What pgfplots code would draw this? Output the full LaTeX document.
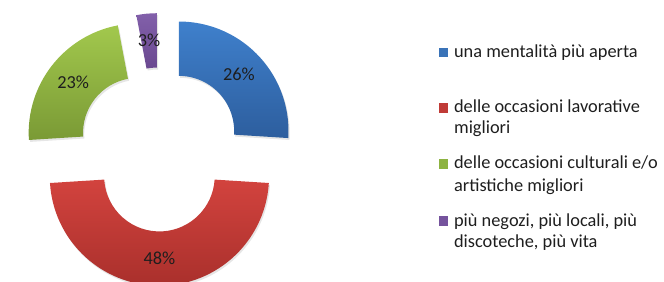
\documentclass[border=0pt]{standalone}
\usepackage{pgfplots}
\pgfplotsset{compat=1.18}
\usepackage{pgfplotstable}
\usepackage{fontspec}
\setmainfont{Carlito}
\usetikzlibrary{calc}
\definecolor{blueT}{HTML}{3F80CC}
\definecolor{blueB}{HTML}{2D5E9E}
\definecolor{redT}{HTML}{D2433E}
\definecolor{redB}{HTML}{A82F2B}
\definecolor{greenT}{HTML}{A2C84D}
\definecolor{greenB}{HTML}{7A9A35}
\definecolor{purpleT}{HTML}{8260AA}
\definecolor{purpleB}{HTML}{6A4890}
\definecolor{cblue}{HTML}{3A73B8}
\definecolor{cred}{HTML}{C03B37}
\definecolor{cgreen}{HTML}{8DB341}
\definecolor{cpurple}{HTML}{75539D}
\definecolor{shadow}{HTML}{E6E6E6}
\definecolor{txt}{HTML}{1E1E1E}

\pgfplotstableread{
share
26
48
23
3
}\shares

\newcommand\legfont{\fontsize{18.9bp}{22bp}\selectfont}

\newcommand\segpath[3]{%
   ($(axis cs:144,136)+(#3:27.5bp)+(#1:113bp)$) arc[start angle=#1, end angle=#2, radius=113bp]
   -- ($(axis cs:144,136)+(#3:27.5bp)+(#2:57bp)$) arc[start angle=#2, end angle=#1, radius=57bp] -- cycle}
\newcommand\seg[5]{%
  \fill[shadow, shift={(1.2bp,-2bp)}] \segpath{#1}{#2}{#3};
  \shade[top color=#4, bottom color=#5] \segpath{#1}{#2}{#3};}

\begin{document}
\pgfplotstablegetelem{0}{share}\of\shares \let\vA\pgfplotsretval
\pgfplotstablegetelem{1}{share}\of\shares \let\vB\pgfplotsretval
\pgfplotstablegetelem{2}{share}\of\shares \let\vC\pgfplotsretval
\pgfplotstablegetelem{3}{share}\of\shares \let\vD\pgfplotsretval
\pgfmathsetmacro\sA{90}
\pgfmathsetmacro\eA{\sA-3.6*\vA}
\pgfmathsetmacro\eB{\eA-3.6*\vB}
\pgfmathsetmacro\eC{\eB-3.6*\vC}
\pgfmathsetmacro\eD{\eC-3.6*\vD}
\pgfmathsetmacro\mA{(\sA+\eA)/2}
\pgfmathsetmacro\mB{(\eA+\eB)/2}
\pgfmathsetmacro\mC{(\eB+\eC)/2}
\pgfmathsetmacro\mD{(\eC+\eD)/2}
\hbox to 664bp{\raisebox{0pt}[290bp][0pt]{%
\begin{tikzpicture}[trim left=0bp, trim right=664bp, baseline=0bp]
\begin{axis}[
  at={(0,0)}, anchor=south west,
  x=1bp, y=1bp, scale only axis,
  xmin=0, xmax=664, ymin=0, ymax=290,
  hide axis, clip=false, xtick=\empty, ytick=\empty,
]
\clip (axis cs:0,0) rectangle (axis cs:664,290);
\seg{\sA}{\eA}{\mA}{blueT}{blueB}
\seg{\eA}{\eB}{\mB}{redT}{redB}
\seg{\eB}{\eC}{\mC}{greenT}{greenB}
\seg{\eC}{\eD}{\mD}{purpleT}{purpleB}

\node[font=\legfont, text=txt] at ($(axis cs:144,136)+(\mA:27.5bp)+(\mA:85bp)$) {\vA\%};
\node[font=\legfont, text=txt] at ($(axis cs:144,136)+(\mB:27.5bp)+(\mB:85bp)$) {\vB\%};
\node[font=\legfont, text=txt] at ($(axis cs:144,136)+(\mC:27.5bp)+(\mC:85bp)$) {\vC\%};
\node[font=\legfont, text=txt] at ($(axis cs:144,136)+(\mD:27.5bp)+(\mD:85bp)$) {\vD\%};

% legend
\fill[cblue] (axis cs:432,231) rectangle (axis cs:441.5,241);
\node[anchor=base west, inner sep=0, font=\legfont, text=txt] at (axis cs:447.5,231) {una mentalità più aperta};
\fill[cred] (axis cs:432,174) rectangle (axis cs:441.5,184);
\node[anchor=base west, inner sep=0, font=\legfont, text=txt] at (axis cs:447.5,174) {delle occasioni lavorative};
\node[anchor=base west, inner sep=0, font=\legfont, text=txt] at (axis cs:447.5,152) {migliori};
\fill[cgreen] (axis cs:432,116) rectangle (axis cs:441.5,126);
\node[anchor=base west, inner sep=0, font=\legfont, text=txt] at (axis cs:447.5,116) {delle occasioni culturali e/o};
\node[anchor=base west, inner sep=0, font=\legfont, text=txt] at (axis cs:447.5,93) {artistiche migliori};
\fill[cpurple] (axis cs:432,57) rectangle (axis cs:441.5,67);
\node[anchor=base west, inner sep=0, font=\legfont, text=txt] at (axis cs:447.5,57) {più negozi, più locali, più};
\node[anchor=base west, inner sep=0, font=\legfont, text=txt] at (axis cs:447.5,35) {discoteche, più vita};
\end{axis}
\end{tikzpicture}}\hss}
\end{document}
